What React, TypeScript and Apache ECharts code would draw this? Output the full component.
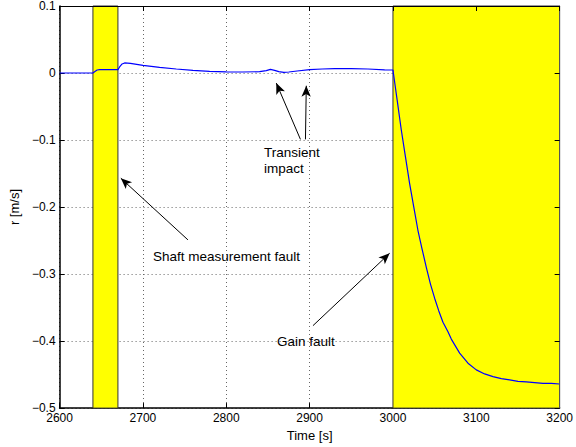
import React, { useEffect, useRef } from "react";
import * as echarts from "echarts";

const timeValues = [
  2600, 2640, 2642, 2645, 2648, 2670, 2672, 2675, 2678, 2685, 2700, 2720, 2740, 2760, 2780, 2800, 2820, 2840,
  2848, 2853, 2858, 2863, 2869, 2875, 2885, 2900, 2915, 2930, 2950, 2970, 2990, 3000,
  3005, 3010, 3015, 3020, 3025, 3030, 3035, 3040, 3045, 3050, 3055, 3060, 3066, 3070, 3080, 3090, 3100,
  3110, 3120, 3130, 3140, 3150, 3160, 3170, 3180, 3190, 3200,
];
const rValues = [
  0, 0, 0.002, 0.0045, 0.005, 0.005, 0.009, 0.0135, 0.015, 0.0145, 0.0115, 0.0085, 0.006, 0.004, 0.0025, 0.0018, 0.0015, 0.002,
  0.0035, 0.0055, 0.004, 0.002, 0.001, 0.0015, 0.003, 0.005, 0.006, 0.0065, 0.0065, 0.006, 0.0048, 0.0045,
  -0.04, -0.085, -0.125, -0.165, -0.2, -0.235, -0.263, -0.29, -0.315, -0.336, -0.355, -0.372, -0.386, -0.397, -0.418, -0.433, -0.443,
  -0.449, -0.453, -0.456, -0.458, -0.46, -0.461, -0.462, -0.463, -0.463, -0.464,
];

const faultBands = [
  [2640, 2670],
  [3000, 3200],
];

// arrows: [tailT, tailR, headT, headR]
const arrows = [
  [2889, -0.099, 2860, -0.015],
  [2895, -0.099, 2896, -0.019],
  [2754, -0.249, 2673.5, -0.157],
  [2904, -0.377, 2996, -0.269],
];

const annotations = [
  { text: "Transient", x: 264, y: 153 },
  { text: "impact", x: 264, y: 169 },
  { text: "Shaft measurement fault", x: 153, y: 257 },
  { text: "Gain fault", x: 277, y: 342 },
];

const FONT = "'Liberation Sans', Arial, Helvetica, sans-serif";

export default function App() {
  const ref = useRef<HTMLDivElement>(null);
  useEffect(() => {
    document.body.style.margin = "0";
    if (!ref.current) return;
    const chart = echarts.init(ref.current, null, { renderer: "svg" });
    const fmtY = (v: number) => {
      const s = String(Math.round(v * 10) / 10);
      return s.replace("-", "\u2212");
    };
    const fmtX = (v: number) => String(v);
    const option: any = {
      animation: false,
      backgroundColor: "#fff",
      grid: { left: 48, right: 15, top: 6, bottom: 37 },
      xAxis: [
        {
          type: "value",
          min: 2600,
          max: 3200,
          interval: 100,
          position: "bottom",
          name: "Time [s]",
          nameLocation: "middle",
          nameGap: 19,
          nameTextStyle: { color: "#000", fontSize: 13, fontFamily: FONT },
          axisLine: { show: true, onZero: false, lineStyle: { color: "#000", width: 1.5 } },
          axisTick: { show: true, inside: true, length: 5, lineStyle: { color: "#000" } },
          axisLabel: { color: "#000", fontSize: 12, fontFamily: FONT, margin: 4, formatter: fmtX },
          splitLine: { show: true, lineStyle: { color: "#666", type: [1, 3], width: 1 } },
        },
        {
          type: "value",
          min: 2600,
          max: 3200,
          interval: 100,
          position: "top",
          z: 10,
          axisLine: { show: true, onZero: false, lineStyle: { color: "#000", width: 1 } },
          axisTick: { show: true, inside: true, length: 5, lineStyle: { color: "#000" } },
          axisLabel: { show: false },
          splitLine: { show: false },
        },
      ],
      yAxis: [
        {
          type: "value",
          min: -0.5,
          max: 0.1,
          interval: 0.1,
          position: "left",
          name: "r [m/s]",
          nameLocation: "middle",
          nameGap: 28,
          nameTextStyle: { color: "#000", fontSize: 13, fontFamily: FONT },
          axisLine: { show: true, onZero: false, lineStyle: { color: "#000", width: 1.5 } },
          axisTick: { show: true, inside: true, length: 5, lineStyle: { color: "#000" } },
          axisLabel: { color: "#000", fontSize: 12, fontFamily: FONT, margin: 4, formatter: fmtY },
          splitLine: { show: true, lineStyle: { color: "#666", type: [1, 3], width: 1 } },
        },
        {
          type: "value",
          min: -0.5,
          max: 0.1,
          interval: 0.1,
          position: "right",
          z: 10,
          axisLine: { show: true, onZero: false, lineStyle: { color: "#555", width: 1 } },
          axisTick: { show: true, inside: true, length: 5, lineStyle: { color: "#000" } },
          axisLabel: { show: false },
          splitLine: { show: false },
        },
      ],
      series: [
        {
          type: "line",
          data: [],
          z: 1,
          markArea: {
            silent: true,
            itemStyle: { color: "#ffff00", opacity: 1, borderColor: "#333", borderWidth: 1 },
            data: faultBands.map(([a, b]) => [{ xAxis: a }, { xAxis: b }]),
          },
        },
        {
          type: "line",
          z: 5,
          showSymbol: false,
          symbol: "none",
          data: timeValues.map((t, i) => [t, rValues[i]]),
          lineStyle: { color: "#0000ff", width: 1.2 },
          markLine: {
            silent: true,
            symbol: ["none", "arrow"],
            symbolSize: [7, 11],
            label: { show: false },
            lineStyle: { color: "#000", width: 1, type: "solid" },
            data: arrows.map(([t0, r0, t1, r1]) => [{ coord: [t0, r0] }, { coord: [t1, r1] }]),
          },
        },
      ],
      graphic: annotations.map((a) => ({
        type: "text",
        left: a.x,
        top: a.y - 8,
        z: 20,
        style: { text: a.text, fill: "#000", font: `13.5px ${FONT}` },
      })),
    };
    chart.setOption(option);
    return () => chart.dispose();
  }, []);
  return <div ref={ref} style={{ width: 576, height: 447, margin: 0 }} />;
}
